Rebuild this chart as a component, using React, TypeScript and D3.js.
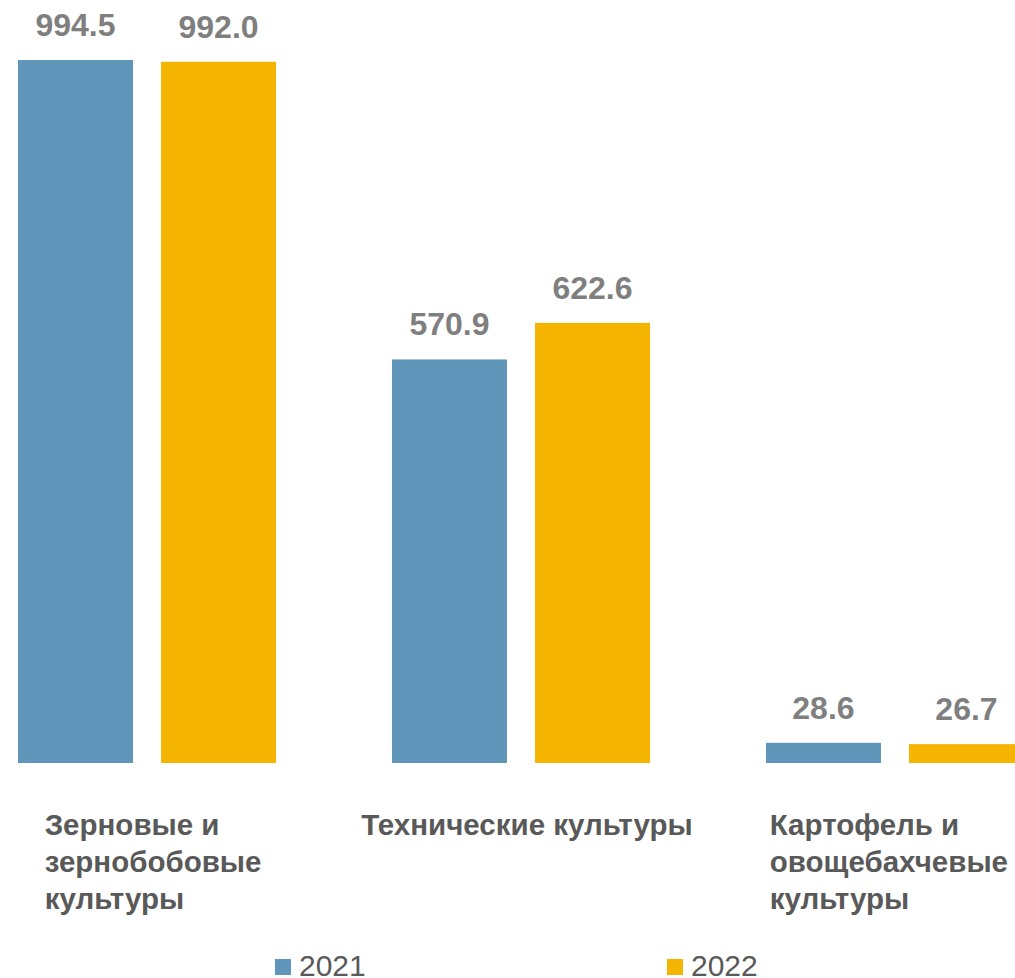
import React, { useEffect, useRef } from 'react';
import * as d3 from 'd3';

// categories, each split into lines as in the source picture
const categories = ['Зерновые и зернобобовые культуры', 'Технические культуры', 'Картофель и овощебахчевые культуры'];
const categoryLines = [['Зерновые и', 'зернобобовые', 'культуры'], ['Технические культуры'], ['Картофель и', 'овощебахчевые', 'культуры']];
const years = ['2021', '2022'];
const values2021 = [994.5, 570.9, 28.6];
const values2022 = [992.0, 622.6, 26.7];
const colors = ['#6096b9', '#f5b400'];

const W = 1015;
const H = 978;
const FONT = '"Liberation Sans", Arial, sans-serif';

export default function App() {
  const ref = useRef<SVGSVGElement | null>(null);

  useEffect(() => {
    if (!ref.current) return;
    const svg = d3.select(ref.current);
    svg.selectAll('*').remove();

    const baseline = 763;
    const y = d3.scaleLinear().domain([0, 994.5]).range([baseline, 60]);

    const x0 = d3.scaleBand<string>()
      .domain(categories)
      .range([18, 1024])
      .paddingInner(0.31)
      .paddingOuter(0);

    const x1 = d3.scaleBand<string>()
      .domain(years)
      .range([0, x0.bandwidth()])
      .paddingInner(0.196)
      .paddingOuter(0);

    const series = [values2021, values2022];

    const groups = svg.append('g')
      .selectAll('g')
      .data(categories)
      .enter().append('g')
      .attr('transform', d => `translate(${x0(d)},0)`);

    years.forEach((yr, si) => {
      groups.append('rect')
        .attr('x', x1(yr)!)
        .attr('y', (_, i) => y(series[si][i]))
        .attr('width', x1.bandwidth())
        .attr('height', (_, i) => baseline - y(series[si][i]))
        .attr('fill', colors[si]);

      groups.append('text')
        .attr('x', x1(yr)! + x1.bandwidth() / 2)
        .attr('y', (_, i) => y(series[si][i]) - 24)
        .attr('text-anchor', 'middle')
        .attr('font-family', FONT)
        .attr('font-weight', 'bold')
        .attr('font-size', 32)
        .attr('fill', '#7f7f7f')
        .text((_, i) => series[si][i].toFixed(1));
    });

    // category labels: lines left aligned, block centred under the group
    categories.forEach((c, i) => {
      const t = svg.append('text')
        .attr('font-family', FONT)
        .attr('font-weight', 'bold')
        .attr('font-size', 29.5)
        .attr('fill', '#595959');
      categoryLines[i].forEach((line, li) => {
        t.append('tspan')
          .attr('x', 0)
          .attr('y', 835 + li * 37)
          .text(line);
      });
      const bb = (t.node() as SVGTextElement).getBBox();
      const cx = x0(c)! + x0.bandwidth() / 2 + 6;
      const left = Math.min(cx - bb.width / 2, W - 7 - bb.width);
      t.attr('transform', `translate(${left},0)`);
    });

    // legend
    const legendX = [275, 667];
    years.forEach((yr, i) => {
      svg.append('rect')
        .attr('x', legendX[i])
        .attr('y', 959)
        .attr('width', 16)
        .attr('height', 16)
        .attr('fill', colors[i]);
      svg.append('text')
        .attr('x', legendX[i] + 24)
        .attr('y', 976)
        .attr('font-family', FONT)
        .attr('font-size', 30)
        .attr('fill', '#595959')
        .text(yr);
    });
  }, []);

  return (
    <div style={{ position: 'absolute', left: 0, top: 0 }}>
      <svg ref={ref} width={W} height={H} style={{ display: 'block', background: '#fff' }} />
    </div>
  );
}
